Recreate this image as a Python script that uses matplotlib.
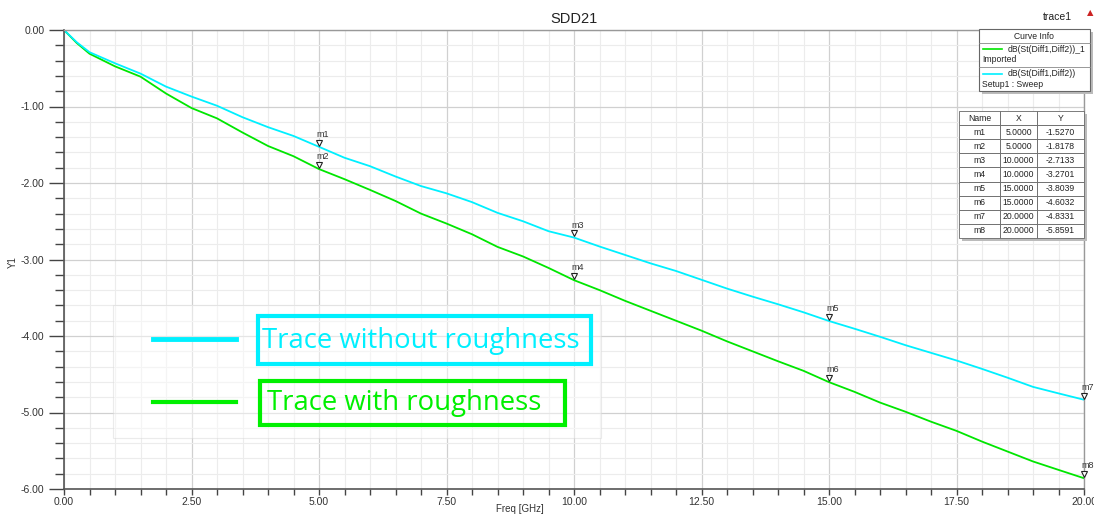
import matplotlib
matplotlib.use("Agg")
import matplotlib.pyplot as plt
from matplotlib.patches import Rectangle
from matplotlib.lines import Line2D
from matplotlib.ticker import MultipleLocator
import matplotlib.transforms as mtransforms

# 数据：两条 SDD21 曲线
freq_ghz = [0.0, 0.25, 0.5, 1.0, 1.5, 2.0, 2.5, 3.0, 3.5, 4.0, 4.5,
            5.0, 5.5, 6.0, 6.5, 7.0, 7.5, 8.0, 8.5, 9.0, 9.5,
            10.0, 10.5, 11.0, 11.5, 12.0, 12.5, 13.0, 13.5, 14.0, 14.5,
            15.0, 15.5, 16.0, 16.5, 17.0, 17.5, 18.0, 18.5, 19.0, 19.5, 20.0]
sdd21_smooth = [0.0, -0.16, -0.29, -0.435, -0.57, -0.74, -0.87, -0.99, -1.14, -1.27, -1.385,
                -1.527, -1.67, -1.78, -1.915, -2.04, -2.135, -2.25, -2.39, -2.50, -2.63,
                -2.7133, -2.83, -2.94, -3.05, -3.15, -3.265, -3.38, -3.485, -3.585, -3.69,
                -3.8039, -3.905, -4.01, -4.12, -4.22, -4.32, -4.43, -4.545, -4.665, -4.75, -4.8331]
sdd21_rough = [0.0, -0.17, -0.31, -0.475, -0.61, -0.83, -1.02, -1.155, -1.34, -1.516, -1.65,
               -1.8178, -1.95, -2.09, -2.235, -2.40, -2.53, -2.67, -2.835, -2.96, -3.11,
               -3.2701, -3.40, -3.54, -3.67, -3.80, -3.93, -4.07, -4.20, -4.33, -4.455,
               -4.6032, -4.73, -4.87, -4.99, -5.12, -5.24, -5.38, -5.51, -5.64, -5.75, -5.8591]

# 标记点 m1..m8
marker_names = ["m1", "m2", "m3", "m4", "m5", "m6", "m7", "m8"]
marker_x = [5.0, 5.0, 10.0, 10.0, 15.0, 15.0, 20.0, 20.0]
marker_y = [-1.5270, -1.8178, -2.7133, -3.2701, -3.8039, -4.6032, -4.8331, -5.8591]

W, H = 1094, 515


def px(x, y):
    """像素坐标 → figure 坐标"""
    return x / W, 1 - y / H


fig = plt.figure(figsize=(W / 100, H / 100), dpi=100)
left, top = px(64, 30)
right, bottom = px(1084, 489)
ax = fig.add_axes([left, bottom, right - left, top - bottom])

ax.set_xlim(0, 20)
ax.set_ylim(-6, 0)

ax.xaxis.set_major_locator(MultipleLocator(2.5))
ax.xaxis.set_minor_locator(MultipleLocator(0.5))
ax.yaxis.set_major_locator(MultipleLocator(1.0))
ax.yaxis.set_minor_locator(MultipleLocator(0.2))
ax.xaxis.set_major_formatter(lambda v, p: f"{v:.2f}")
ax.yaxis.set_major_formatter(lambda v, p: f"{v:.2f}")

ax.grid(True, which="minor", color="#ececec", lw=0.8)
ax.grid(True, which="major", color="#d0d0d0", lw=0.9)
ax.set_axisbelow(True)

ax.tick_params(axis="y", which="major", length=11, width=1, color="#444444",
               labelsize=7.5, labelcolor="#333333", pad=3)
ax.tick_params(axis="y", which="minor", length=6.5, width=1, color="#444444")
ax.tick_params(axis="x", which="major", length=4, width=1, color="#444444",
               labelsize=7.5, labelcolor="#333333", pad=1.5)
ax.tick_params(axis="x", which="minor", length=4, width=1, color="#444444")
for lab in ax.get_xticklabels() + ax.get_yticklabels():
    lab.set_family("Liberation Sans")

for side in ["left", "bottom"]:
    ax.spines[side].set_color("#555555")
    ax.spines[side].set_linewidth(1.2)
for side in ["top", "right"]:
    ax.spines[side].set_color("#999999")
    ax.spines[side].set_linewidth(1.0)

ax.plot(freq_ghz, sdd21_rough, color="#00e600", lw=1.3)
ax.plot(freq_ghz, sdd21_smooth, color="#00f0ff", lw=1.3)

# 标记点：倒三角 + 名称
tri = mtransforms.offset_copy(ax.transData, fig=fig, x=0, y=3, units="points")
for name, mx, my in zip(marker_names, marker_x, marker_y):
    ax.plot(mx, my, marker="v", ms=4.5, mfc="white", mec="#222222", mew=0.8,
            transform=tri, clip_on=False, zorder=5)
    ax.annotate(name, (mx, my), xytext=(-2, 7), textcoords="offset points",
                fontsize=6.5, color="#333333", family="Liberation Sans",
                annotation_clip=False)

ax.set_title("SDD21", fontsize=10.5, family="Liberation Sans", color="#222222", pad=5)
fig.text(*px(520, 509), "Freq [GHz]", fontsize=7, family="Liberation Sans",
         color="#333333", ha="center", va="center")
fig.text(*px(13, 262), "Y1", rotation=90, fontsize=7, family="Liberation Sans",
         color="#333333", ha="center", va="center")
fig.text(*px(1072, 17), "trace1", fontsize=7.5, family="Liberation Sans",
         color="#222222", ha="right", va="center")
fig.text(*px(1090, 13), "\u25b2", fontsize=6, color="#cc2222", ha="center", va="center")

# Curve Info 框
x0, y0 = px(979, 91)
x1, y1 = px(1090, 29)
fig.add_artist(Rectangle((x0 + 3 / W, y0 - 3 / H), x1 - x0, y1 - y0,
                         transform=fig.transFigure, fc="#bbbbbb", ec="none"))
fig.add_artist(Rectangle((x0, y0), x1 - x0, y1 - y0, transform=fig.transFigure,
                         fc="white", ec="#666666", lw=0.8))
fig.add_artist(Line2D([x0, x1], [px(0, 43)[1]] * 2, transform=fig.transFigure,
                      color="#888888", lw=0.6))
fig.add_artist(Line2D([x0, x1], [px(0, 67)[1]] * 2, transform=fig.transFigure,
                      color="#888888", lw=0.6))
fig.text(*px(1034, 36), "Curve Info", fontsize=6.2, family="Liberation Sans",
         ha="center", va="center", color="#222222")
fig.add_artist(Line2D([px(983, 0)[0], px(1002, 0)[0]], [px(0, 49)[1]] * 2,
                      transform=fig.transFigure, color="#00e600", lw=1.2))
fig.text(*px(1008, 49), "dB(St(Diff1,Diff2))_1", fontsize=6.2, family="Liberation Sans",
         va="center", color="#222222")
fig.text(*px(982, 60), "Imported", fontsize=6.2, family="Liberation Sans",
         va="center", color="#222222")
fig.add_artist(Line2D([px(983, 0)[0], px(1002, 0)[0]], [px(0, 74)[1]] * 2,
                      transform=fig.transFigure, color="#00f0ff", lw=1.2))
fig.text(*px(1008, 74), "dB(St(Diff1,Diff2))", fontsize=6.2, family="Liberation Sans",
         va="center", color="#222222")
fig.text(*px(982, 84), "Setup1 : Sweep", fontsize=6.2, family="Liberation Sans",
         va="center", color="#222222")

# 标记点数值表（阴影放在 axes 里，保证画在表格下面）
tx0, ty0 = px(959, 238)
tx1, ty1 = px(1084, 111)
shadow = Rectangle((tx0 + 3 / W, ty0 - 3 / H), tx1 - tx0, ty1 - ty0,
                   transform=fig.transFigure, fc="#bbbbbb", ec="none",
                   zorder=5.5, clip_on=False)
ax.add_patch(shadow)
rows = [[n, f"{x:.4f}", f"{y:.4f}"] for n, x, y in zip(marker_names, marker_x, marker_y)]
tab = ax.table(cellText=rows, colLabels=["Name", "X", "Y"], cellLoc="center",
               colWidths=[41, 37, 47],
               bbox=[(959 - 64) / 1020, 1 - (238 - 30) / 459,
                     (1084 - 959) / 1020, (238 - 111) / 459])
tab.auto_set_font_size(False)
for (r, c), cell in tab.get_celld().items():
    cell.set_edgecolor("#666666")
    cell.set_linewidth(0.6)
    cell.set_facecolor("white")
    cell.get_text().set_fontsize(6.2)
    cell.get_text().set_family("Liberation Sans")
    cell.get_text().set_color("#222222")
tab.set_zorder(6)

# 叠加的图例说明框
ox0, oy0 = px(113, 438)
ox1, oy1 = px(601, 305)
fig.add_artist(Rectangle((ox0, oy0), ox1 - ox0, oy1 - oy0, transform=fig.transFigure,
                         fc="white", alpha=0.45, ec="#d4d4d4", lw=0.8))
fig.add_artist(Line2D([px(153, 0)[0], px(236, 0)[0]], [px(0, 339)[1]] * 2,
                      transform=fig.transFigure, color="#00f0ff", lw=3.5))
fig.add_artist(Line2D([px(153, 0)[0], px(236, 0)[0]], [px(0, 402)[1]] * 2,
                      transform=fig.transFigure, color="#00f000", lw=3))
bx0, by0 = px(258, 364)
bx1, by1 = px(591, 316)
fig.add_artist(Rectangle((bx0, by0), bx1 - bx0, by1 - by0, transform=fig.transFigure,
                         fc="none", ec="#00f0ff", lw=3))
fig.text(*px(262, 341), "Trace without roughness", fontsize=19.8, family="Open Sans",
         color="#00f0ff", va="center")
gx0, gy0 = px(260, 425)
gx1, gy1 = px(565, 381)
fig.add_artist(Rectangle((gx0, gy0), gx1 - gx0, gy1 - gy0, transform=fig.transFigure,
                         fc="none", ec="#00f000", lw=3))
fig.text(*px(267, 403), "Trace with roughness", fontsize=19.8, family="Open Sans",
         color="#00f000", va="center")

fig.savefig("out.png", dpi=100)
